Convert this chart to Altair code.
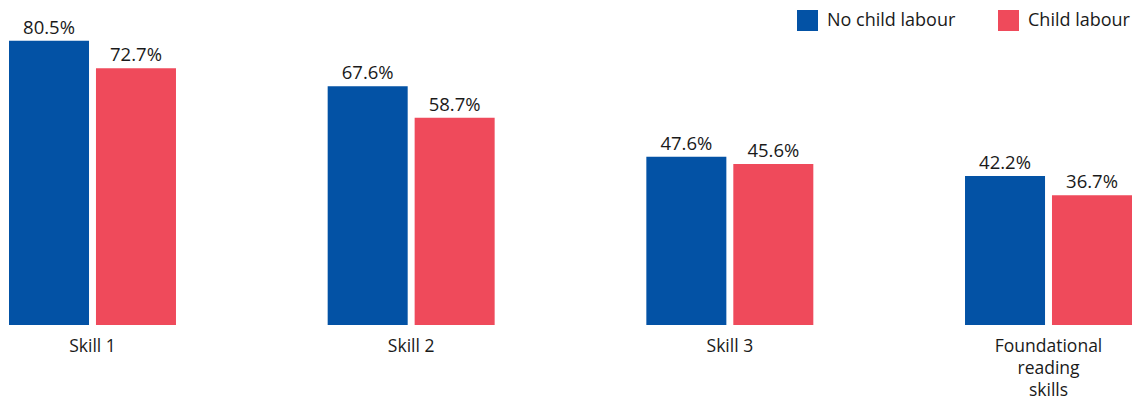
import altair as alt
import pandas as pd

categories = ["Skill 1", "Skill 2", "Skill 3", "Foundational reading skills"]
series = ["No child labour", "Child labour"]
no_child = [80.5, 67.6, 47.6, 42.2]
child = [72.7, 58.7, 45.6, 36.7]
colors = ["#0352A5", "#EF4A5B"]

rows = []
for c, a, b in zip(categories, no_child, child):
    rows.append({"cat": c, "series": series[0], "value": a, "label": f"{a:.1f}%"})
    rows.append({"cat": c, "series": series[1], "value": b, "label": f"{b:.1f}%"})
df = pd.DataFrame(rows)

FONT = "Open Sans"

x = alt.X("cat:N", sort=categories, title=None,
          scale=alt.Scale(paddingInner=0.476, paddingOuter=0),
          axis=alt.Axis(domain=False, ticks=False, labelAngle=0, labelPadding=12,
                        labelFont=FONT, labelFontSize=17.5, labelColor="#1a1a1a",
                        labelLineHeight=22, labelBaseline="top",
                        labelExpr="datum.label == 'Foundational reading skills' ? ['Foundational','reading','skills'] : datum.label"))
xo = alt.XOffset("series:N", sort=series, scale=alt.Scale(paddingInner=0.08, paddingOuter=0))
y = alt.Y("value:Q", scale=alt.Scale(domain=[0, 92]), axis=None)

bars = alt.Chart(df).mark_bar().encode(
    x=x, xOffset=xo, y=y,
    color=alt.Color("series:N", sort=series,
                    scale=alt.Scale(domain=series, range=colors),
                    legend=alt.Legend(title=None, orient="none", legendX=788, legendY=10,
                                      direction="horizontal", symbolType="square",
                                      symbolSize=441, symbolStrokeWidth=0,
                                      labelFont=FONT, labelFontSize=18, labelColor="#1a1a1a",
                                      labelOffset=9, columnPadding=42, symbolOpacity=1))
)

text = alt.Chart(df).mark_text(font=FONT, fontSize=18.5, color="#1a1a1a",
                               baseline="alphabetic", dy=-7).encode(
    x=x, xOffset=xo, y=y, text="label:N"
)

chart = (bars + text).properties(
    width=1123, height=325,
    padding={"left": 9, "top": 0, "right": 5, "bottom": 0}
).configure_view(stroke=None)

chart.save("out.html", embed_options={"renderer": "svg", "actions": False})
